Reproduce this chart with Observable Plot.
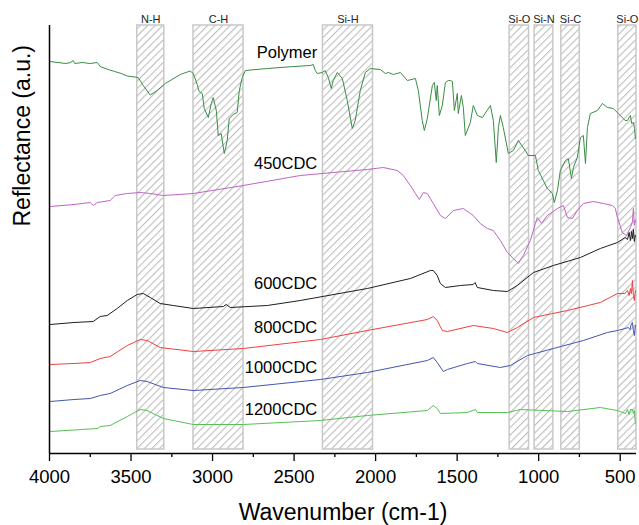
<!DOCTYPE html>
<html>
<head>
<meta charset="utf-8">
<script src="https://cdn.jsdelivr.net/npm/d3@7"></script>
<script src="https://cdn.jsdelivr.net/npm/@observablehq/plot@0.6"></script>
<style>
  html, body { margin: 0; padding: 0; background: #fff; overflow: hidden; width: 639px; height: 525px; }
  #chart { width: 639px; height: 525px; overflow: hidden; }
  #chart svg { display: block; }
</style>
</head>
<body>
<div id="chart"></div>
<script>
// ---- Data (wavenumber cm-1, reflectance a.u. with vertical offsets) ----
const seriesNames = ["Polymer", "450CDC", "600CDC", "800CDC", "1000CDC", "1200CDC"];
const seriesColors = ["#3a8c44", "#c064c4", "#1e1e1e", "#f04040", "#4455b0", "#55c055"];

const polymer = [[3996,392],[3900,390],[3870,391],[3855,393],[3845,390],[3800,391],[3750,390],[3707,391],[3689,387],[3640,384],[3600,382],[3560,380],[3523,377.5],[3456,376],[3425,368],[3382,358.5],[3339,363],[3290,370],[3198,379],[3137,382.5],[3118,380],[3094,369],[3082,362],[3063,360],[3051,345],[3026,336],[3008,350],[2996,356],[2977,343],[2965,318],[2947,320],[2928,300],[2910,313],[2898,335],[2873,339],[2849,341],[2836,363],[2818,376],[2799,383],[2664,385],[2500,387],[2401,388],[2382,389],[2370,383],[2358,380],[2327,381],[2309,383],[2290,376],[2272,365],[2260,373],[2235,381],[2204,375],[2174,353],[2143,325],[2125,333],[2094,363],[2063,381],[2033,385],[1971,384],[1940,380],[1922,381],[1891,379],[1848,381],[1805,373],[1756,375],[1738,363],[1714,333],[1701,323],[1683,335],[1652,368],[1640,371],[1628,353],[1622,368],[1609,338],[1591,348],[1572,371],[1554,373],[1542,373],[1529,372],[1517,343],[1499,360],[1493,340],[1474,358],[1462,346],[1450,318],[1419,331],[1401,348],[1376,338],[1345,336],[1296,348],[1278,333],[1260,291],[1247,326],[1235,338],[1217,326],[1186,300],[1155,303],[1125,313],[1082,303],[1063,298],[1020,298],[1002,283],[947,265],[916,260],[904,251],[885,263],[867,283],[836,293],[818,295],[799,275],[787,286],[763,296],[744,316],[726,318],[713,290],[701,326],[683,340],[640,343],[609,350],[578,346],[542,345],[499,338],[470,333],[456,333],[445,336],[437,338],[430,330],[419,331],[412,325],[407,315]];

const cdc450 = [[3996,247],[3850,249],[3750,251],[3732,248],[3707,251],[3628,253],[3597,258],[3523,260],[3444,261],[3382,260],[3302,258],[3118,260],[2812,268],[2462,278],[2260,281],[2051,284],[1953,286],[1867,283],[1830,278],[1787,268],[1756,260],[1732,254],[1707,261],[1683,260],[1646,250],[1603,238],[1572,235],[1523,243],[1462,245],[1401,238],[1358,230],[1315,225],[1278,223],[1235,213],[1192,201],[1155,195],[1125,190],[1094,198],[1051,213],[1020,230],[1008,236],[983,230],[947,238],[885,245],[848,248],[824,236],[793,235],[763,243],[726,250],[665,252],[603,250],[548,248],[530,245],[517,236],[487,221],[462,218],[437,226],[425,232],[419,245],[413,228],[407,233]];

const cdc600 = [[3996,129],[3850,131],[3732,132],[3689,137],[3646,138],[3585,145],[3523,153],[3462,159],[3425,160],[3382,156],[3321,150],[3241,148],[3118,145],[2934,147],[2916,149],[2891,146],[2664,148],[2462,153],[2051,165],[1787,175],[1664,183],[1646,183],[1622,178],[1603,170],[1572,166],[1480,168],[1401,169],[1390,171],[1376,166],[1278,163],[1192,162],[1131,168],[1032,181],[910,188],[744,196],[622,205],[517,211],[470,216],[455,214],[445,221],[437,213],[430,222],[425,215],[419,224],[413,212],[407,218]];

const cdc800 = [[3996,89],[3850,90],[3750,91],[3689,95],[3628,97],[3523,108],[3444,114],[3401,113],[3321,106],[3118,102],[2812,105],[2339,114],[2051,123],[1683,134],[1646,137],[1622,133],[1591,123],[1560,122],[1401,128],[1278,125],[1192,121],[1131,126],[1032,136],[824,143],[622,151],[517,160],[470,160],[455,163],[445,158],[437,165],[431,160],[425,173],[419,158],[413,153],[407,163]];

const cdc1000 = [[3996,52],[3850,54],[3750,55],[3689,58],[3628,60],[3523,68],[3444,73],[3401,72],[3302,66],[3118,63],[2812,66],[2339,74],[2051,81],[1683,93],[1646,96],[1622,91],[1585,82],[1560,84],[1437,90],[1388,92],[1376,90],[1235,86],[1174,88],[1069,98],[910,105],[726,113],[579,121],[517,123],[470,125],[450,126],[440,124],[431,130],[425,131],[419,123],[413,118],[407,128]];

const cdc1200 = [[3996,22],[3800,24],[3707,25],[3689,27],[3628,28],[3523,37],[3444,44],[3401,43],[3302,35],[3118,29],[2812,29],[2339,33],[2051,38],[1683,43],[1646,48],[1622,45],[1603,40],[1437,41],[1388,44],[1376,41],[1192,41],[1112,44],[824,42],[622,46],[517,43],[468,40],[455,44],[445,39],[437,44],[425,44],[419,40],[413,43],[407,30]];

const seriesData = [polymer, cdc450, cdc600, cdc800, cdc1000, cdc1200];

// Hatched band regions
const bandLabels = ["N-H", "C-H", "Si-H", "Si-O", "Si-N", "Si-C", "Si-O"];
const bandFrom = [3462, 3117, 2323, 1178, 1025, 861, 512];
const bandTo   = [3296, 2810, 2016, 1059, 910, 748, 400];

// Axis ticks
const majorTicks = [4000, 3500, 3000, 2500, 2000, 1500, 1000, 500];
const minorTicks = [3750, 3250, 2750, 2250, 1750, 1250, 750];

// ---- Build tables ----
const bands = bandLabels.map((label, i) => ({label, from: bandFrom[i], to: bandTo[i]}));
const lines = seriesNames.flatMap((name, i) => seriesData[i].map(([w, r]) => ({name, w, r})));
const labelY = [401, 290, 170, 126, 86, 44];
const seriesLabels = seriesNames.map((name, i) => ({name, y: labelY[i]}));

const chart = Plot.plot({
  width: 639,
  height: 525,
  marginLeft: 49,
  marginRight: 3,
  marginTop: 25,
  marginBottom: 72,
  style: {fontFamily: "'Liberation Sans', Arial, sans-serif", background: "white", color: "black", overflow: "hidden"},
  x: {domain: [4000, 400]},
  y: {domain: [0, 428], axis: null},
  color: {domain: seriesNames, range: seriesColors},
  marks: [
    Plot.rect(bands, {x1: "from", x2: "to", y1: 4, y2: 428, fill: "url(#hatch)", stroke: "#c8c8c8", strokeWidth: 1.5}),
    Plot.text(bands, {x: d => (d.from + d.to) / 2, text: "label", frameAnchor: "top", dy: -10, fontSize: 11, fill: "#222"}),
    Plot.line(lines, {x: "w", y: "r", z: "name", stroke: "name", strokeWidth: 1}),
    Plot.text(seriesLabels, {x: 2358, y: "y", text: "name", textAnchor: "end", fontSize: 16.5, fill: "black"}),
    Plot.ruleY([0], {stroke: "black", strokeWidth: 1.5}),
    Plot.ruleX([4000], {stroke: "black", strokeWidth: 1.5}),
    Plot.axisX(majorTicks, {tickSize: 8, tickPadding: 8, fontSize: 18.5, label: null, strokeWidth: 1.3, tickFormat: d => String(d)}),
    Plot.axisX(minorTicks, {tickSize: 4, label: null, strokeWidth: 1.3, tickFormat: () => ""}),
    Plot.text(["Wavenumber (cm-1)"], {frameAnchor: "bottom", dy: 59, fontSize: 23, lineAnchor: "middle", fill: "black"}),
    Plot.text(["Reflectance (a.u.)"], {frameAnchor: "left", dx: -27, dy: -13, rotate: -90, fontSize: 23, lineAnchor: "middle", fill: "black"})
  ]
});

d3.select(chart).insert("defs", ":first-child").html(
  '<pattern id="hatch" patternUnits="userSpaceOnUse" width="5.3" height="5.3" patternTransform="rotate(45)">' +
  '<line x1="0.6" y1="0" x2="0.6" y2="5.3" stroke="#b0b0b0" stroke-width="0.9"/></pattern>'
);

document.getElementById("chart").appendChild(chart);
</script>
</body>
</html>
